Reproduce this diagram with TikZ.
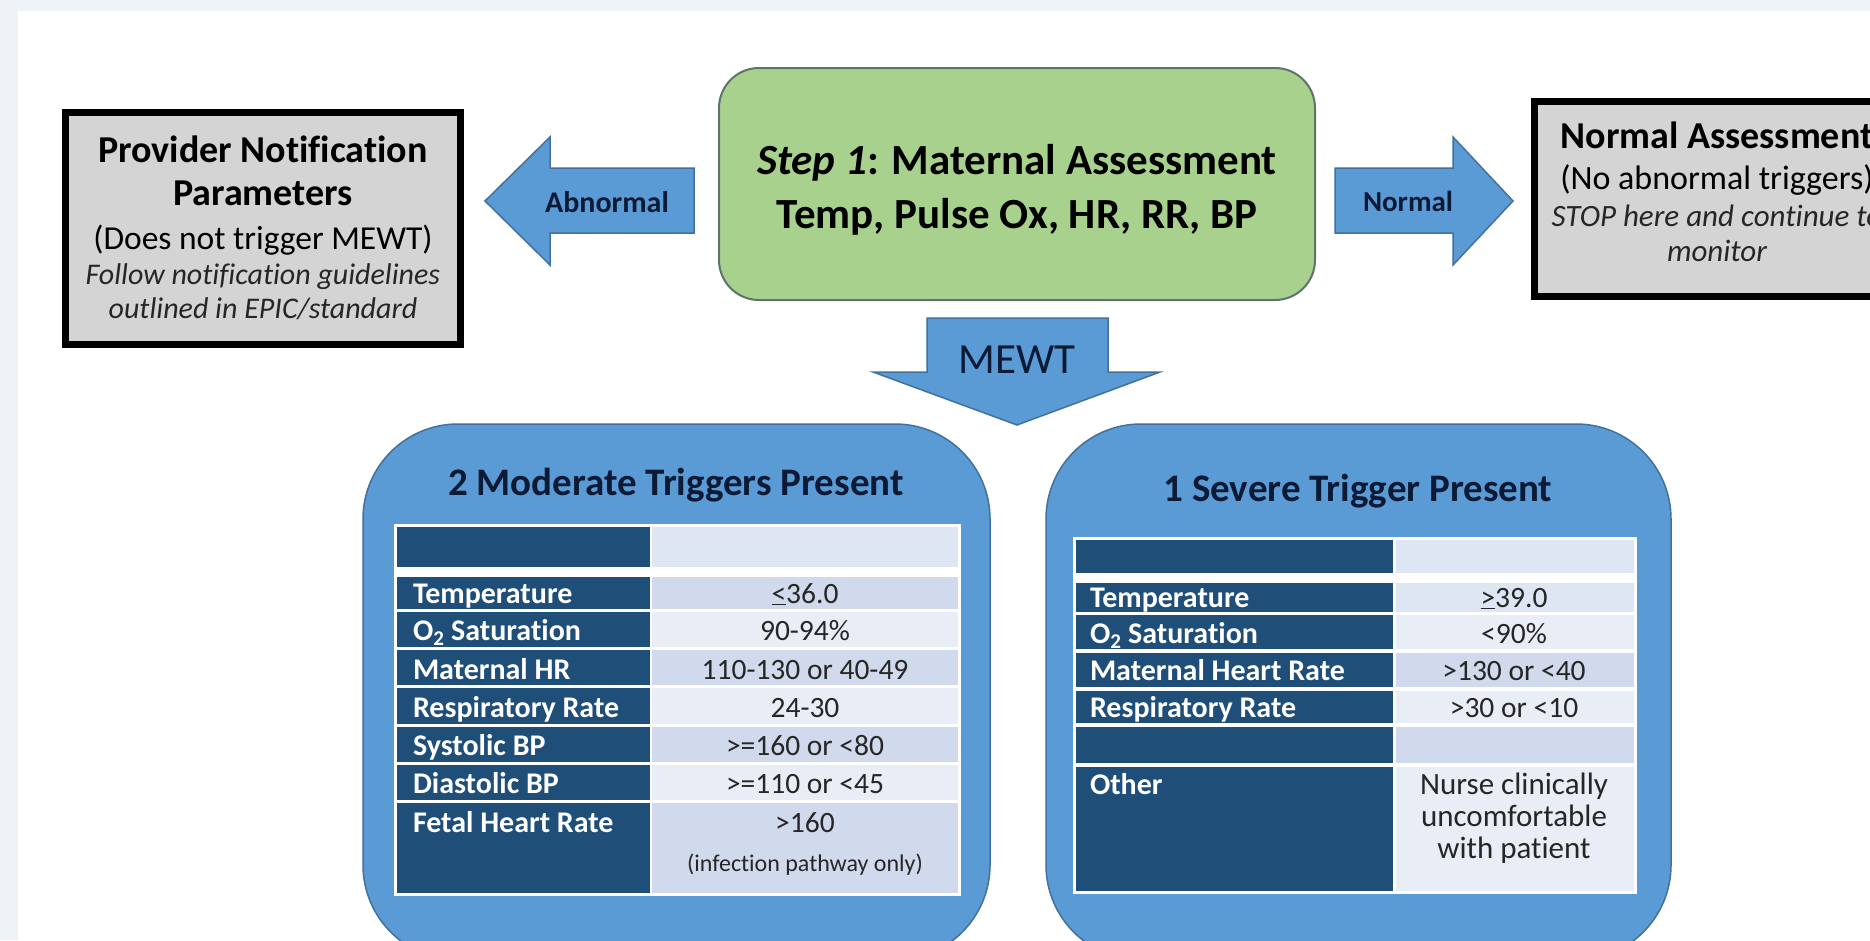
\documentclass[tikz,border=0pt]{standalone}
\usepackage{fontspec}
\setmainfont{Carlito}[Ligatures=NoCommon]
\definecolor{framebg}{HTML}{EEF3F7}
\definecolor{boxgrey}{HTML}{D4D4D4}
\definecolor{arrowblue}{HTML}{5B9BD5}
\definecolor{arrowedge}{HTML}{41719C}
\definecolor{greenfill}{HTML}{A9D18E}
\definecolor{greenedge}{HTML}{5E7468}
\definecolor{navy}{HTML}{1F4E79}
\definecolor{celldark}{HTML}{D0DAEC}
\definecolor{celllight}{HTML}{E9EDF5}
\definecolor{cellhdr}{HTML}{DDE6F2}
\definecolor{titletext}{HTML}{0C1A36}
\definecolor{valtext}{HTML}{262626}
\newcommand\myfs[1]{\fontsize{#1}{#1}\selectfont}
\tikzset{
  blk/.style={fill=arrowblue, draw=arrowedge, line width=1.5pt, line join=miter},
  lbl/.style={anchor=base, inner sep=0pt, outer sep=0pt},
  rowlbl/.style={lbl, anchor=base west, text=white, font=\myfs{30}\bfseries},
  rowval/.style={lbl, text=valtext, font=\myfs{29.5}},
  panel/.style={fill=arrowblue, draw=arrowedge, line width=1.5pt, rounded corners=95pt},
  ptitle/.style={lbl, text=titletext, font=\myfs{39}\bfseries},
}
\begin{document}
\begin{tikzpicture}[x=1pt,y=-1pt]
\useasboundingbox (0,0) rectangle (1870,940);
\clip (0,0) rectangle (1870,940);
\fill[framebg] (0,0) rectangle (1870,940);
\fill[white] (18,11) rectangle (1870,940);

% ---------- Provider notification box ----------
\draw[line width=7pt, fill=boxgrey] (65.5,112.5) rectangle (460.5,344.5);
\node[lbl, font=\myfs{38}\bfseries] (pn1) at (263,162) {Provider Notification};
\node[lbl, font=\myfs{38}\bfseries] (pn2) at (263,205) {Parameters};
\node[lbl, font=\myfs{33.5}] (pn3) at (263,249) {(Does not trigger MEWT)};
\node[lbl, font=\myfs{30}\itshape, text=valtext] (pn4) at (263,284) {Follow notification guidelines};
\node[lbl, font=\myfs{30}\itshape, text=valtext] (pn5) at (263,318) {outlined in EPIC/standard};

% ---------- Abnormal arrow ----------
\draw[blk] (694,168) -- (550,168) -- (550,137) -- (485,201) -- (550,265) -- (550,233) -- (694,233) -- cycle;
\node[lbl, font=\myfs{30}\bfseries, text=titletext] (abn) at (607,212) {Abnormal};

% ---------- Step 1 box ----------
\draw[fill=greenfill, draw=greenedge, line width=2pt, rounded corners=40pt] (719,68) rectangle (1315,300);
\node[lbl, font=\myfs{43}\bfseries] (s1) at (1017,174) {\textit{Step 1}: Maternal Assessment};
\node[lbl, font=\myfs{43}\bfseries] (s2) at (1017,228) {Temp, Pulse Ox, HR, RR, BP};

% ---------- Normal arrow ----------
\draw[blk] (1335,168) -- (1453,168) -- (1453,137) -- (1513,201) -- (1453,265) -- (1453,233) -- (1335,233) -- cycle;
\node[lbl, font=\myfs{29}\bfseries, text=titletext] (nor) at (1408,211) {Normal};

% ---------- Normal assessment box ----------
\draw[line width=7pt, fill=boxgrey] (1534.5,101.5) rectangle (1905,296.5);
\node[lbl, font=\myfs{38}\bfseries] (na1) at (1717,148) {Normal Assessment};
\node[lbl, font=\myfs{34}] (na2) at (1717,189) {(No abnormal triggers)};
\node[lbl, font=\myfs{31}\itshape, text=valtext] (na3) at (1717,226) {STOP here and continue to};
\node[lbl, font=\myfs{31}\itshape, text=valtext] (na4) at (1717,261) {monitor};

% ---------- MEWT arrow ----------
\draw[blk] (927,318) -- (1108,318) -- (1108,372) -- (1160,372) -- (1017,425) -- (873,372) -- (927,372) -- cycle;
\node[lbl, font=\myfs{43}, text=titletext] (mewt) at (1017,373) {MEWT};

% ---------- Left panel ----------
\draw[panel] (363,424) rectangle (990,960);
\node[ptitle] (lt) at (676,495) {2 Moderate Triggers Present};
\fill[white] (394,524) rectangle (961,896);
\fill[navy] (397,527) rectangle (650,567);
\fill[cellhdr] (652,527) rectangle (958,567);
\foreach \ya/\yb/\cc in {577/609/celldark, 612/647/celllight, 650/685/celldark, 688/724/celllight, 727/762/celldark, 765/800/celllight, 803/893/celldark}{
  \fill[navy] (397,\ya) rectangle (650,\yb);
  \fill[\cc] (652,\ya) rectangle (958,\yb);
}
\node[rowlbl] (l1) at (413,603) {Temperature};
\node[rowlbl] (l2) at (413,640) {O\textsubscript{2} Saturation};
\node[rowlbl] (l3) at (413,679) {Maternal HR};
\node[rowlbl] (l4) at (413,717) {Respiratory Rate};
\node[rowlbl] (l5) at (413,755) {Systolic BP};
\node[rowlbl] (l6) at (413,793) {Diastolic BP};
\node[rowlbl] (l7) at (413,832) {Fetal Heart Rate};
\node[rowval] (v1) at (805,603) {\underline{<}36.0};
\node[rowval] (v2) at (805,640) {90-94\%};
\node[rowval] (v3) at (805,679) {110-130 or 40-49};
\node[rowval] (v4) at (805,717) {24-30};
\node[rowval] (v5) at (805,755) {>=160 or <80};
\node[rowval] (v6) at (805,793) {>=110 or <45};
\node[rowval] (v7) at (805,832) {>160};
\node[rowval, font=\myfs{24}] (v8) at (805,871) {(infection pathway only)};

% ---------- Right panel ----------
\draw[panel] (1046,424) rectangle (1671,960);
\node[ptitle] (rt) at (1358,501) {1 Severe Trigger Present};
\fill[white] (1073,537) rectangle (1637,894);
\fill[navy] (1076,540) rectangle (1393,573);
\fill[cellhdr] (1396,540) rectangle (1634,573);
\foreach \ya/\yb/\cc in {583/612/cellhdr, 615/649/celllight, 653/687/celldark, 691/723/celllight, 727/763/celldark, 767/891/celllight}{
  \fill[navy] (1076,\ya) rectangle (1393,\yb);
  \fill[\cc] (1396,\ya) rectangle (1634,\yb);
}
\node[rowlbl] (r1) at (1090,607) {Temperature};
\node[rowlbl] (r2) at (1090,643) {O\textsubscript{2} Saturation};
\node[rowlbl] (r3) at (1090,680) {Maternal Heart Rate};
\node[rowlbl] (r4) at (1090,717) {Respiratory Rate};
\node[rowlbl] (r5) at (1090,794) {Other};
\node[rowval] (w1) at (1514,607) {\underline{>}39.0};
\node[rowval] (w2) at (1514,643) {<90\%};
\node[rowval] (w3) at (1514,680) {>130 or <40};
\node[rowval] (w4) at (1514,717) {>30 or <10};
\node[rowval, font=\myfs{31}] (w5) at (1514,794) {Nurse clinically};
\node[rowval, font=\myfs{31}] (w6) at (1514,826) {uncomfortable};
\node[rowval, font=\myfs{31}] (w7) at (1514,858) {with patient};
\end{tikzpicture}
\end{document}
